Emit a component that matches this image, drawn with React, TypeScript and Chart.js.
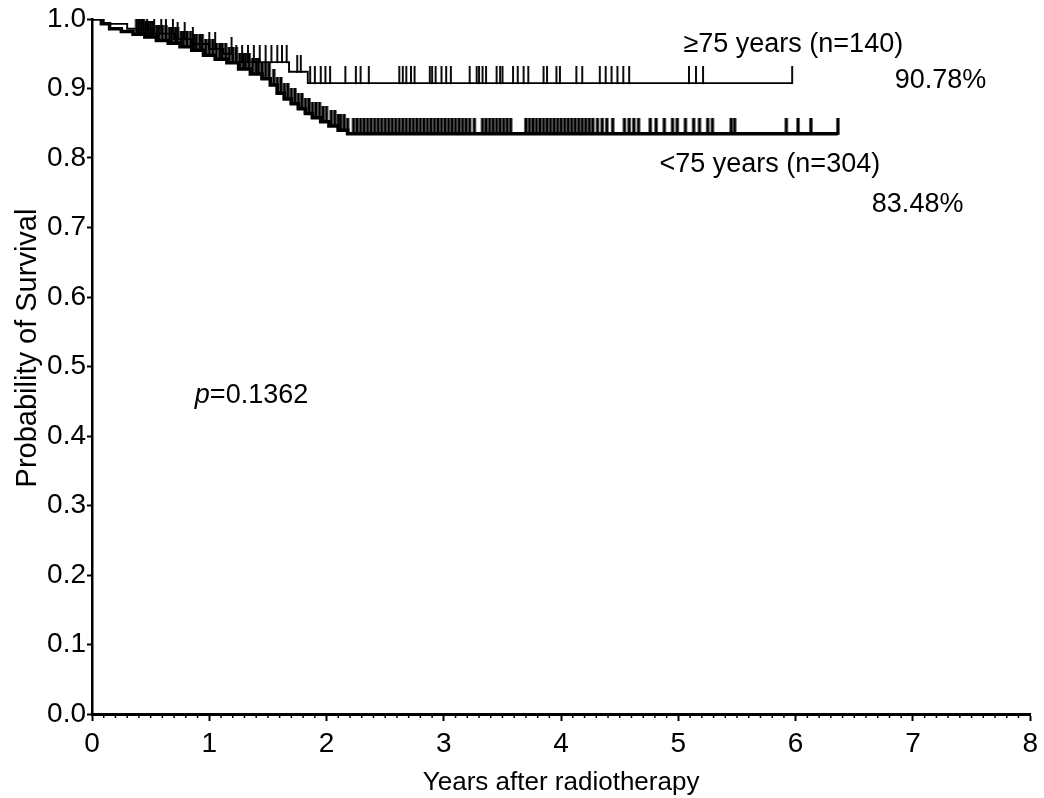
import React, { useEffect, useRef } from "react";
import { Chart, registerables } from "chart.js";

Chart.register(...registerables);

const FONT = '"Liberation Sans", Arial, sans-serif';

// Axis ticks
const X_TICKS = [0, 1, 2, 3, 4, 5, 6, 7, 8];
const Y_TICKS = [0, 0.1, 0.2, 0.3, 0.4, 0.5, 0.6, 0.7, 0.8, 0.9, 1.0];

// >=75 years (n=140): Kaplan-Meier steps (time in years, survival from that time on)
const OLD_TIMES = [0, 0.1, 0.3, 0.5, 0.7, 0.85, 1.0, 1.12, 1.2, 1.68, 1.84, 5.97];
const OLD_SURV = [1.0, 0.993, 0.986, 0.979, 0.971, 0.964, 0.957, 0.95, 0.938, 0.924, 0.9078, 0.9078];
const OLD_CENSOR = [
  0.4, 0.43, 0.47, 0.53, 0.59, 0.63, 0.69, 0.73, 0.79, 0.86, 1.0, 1.05, 1.19, 1.23, 1.28, 1.33,
  1.38, 1.43, 1.48, 1.53, 1.58, 1.62, 1.66, 1.75, 1.78, 1.86, 1.9, 1.95, 1.99, 2.03, 2.16, 2.25,
  2.29, 2.36, 2.62, 2.65, 2.68, 2.72, 2.75, 2.88, 2.9, 2.93, 2.98, 3.02, 3.06, 3.22, 3.28, 3.3,
  3.33, 3.36, 3.45, 3.48, 3.5, 3.59, 3.63, 3.68, 3.72, 3.85, 3.88, 3.96, 3.99, 4.13, 4.18, 4.33,
  4.38, 4.43, 4.48, 4.53, 4.58, 5.09, 5.15, 5.21, 5.97,
];

// <75 years (n=304)
const YOUNG_TIMES = [
  0, 0.08, 0.15, 0.25, 0.35, 0.45, 0.55, 0.65, 0.75, 0.85, 0.95, 1.05, 1.15, 1.25, 1.35, 1.45,
  1.52, 1.58, 1.64, 1.7, 1.76, 1.82, 1.88, 1.95, 2.02, 2.1, 2.18, 6.36,
];
const YOUNG_SURV = [
  1.0, 0.993, 0.986, 0.982, 0.978, 0.974, 0.969, 0.965, 0.96, 0.955, 0.948, 0.942, 0.937, 0.928,
  0.921, 0.914, 0.905, 0.893, 0.885, 0.878, 0.871, 0.864, 0.858, 0.852, 0.846, 0.84, 0.8348, 0.8348,
];
const YOUNG_CENSOR = [
  0.38, 0.4, 0.42, 0.44, 0.46, 0.48, 0.5, 0.52, 0.55, 0.57, 0.6, 0.63, 0.66, 0.68, 0.71, 0.73,
  0.76, 0.78, 0.81, 0.84, 0.87, 0.89, 0.92, 0.94, 0.97, 1.0, 1.03, 1.06, 1.09, 1.11, 1.14, 1.17,
  1.2, 1.23, 1.26, 1.29, 1.31, 1.34, 1.37, 1.4, 1.42, 1.45, 1.48, 1.51, 1.55, 1.58, 1.61, 1.64,
  1.67, 1.7, 1.73, 1.76, 1.79, 1.82, 1.85, 1.88, 1.91, 1.94, 1.97, 2.0, 2.04, 2.07, 2.1, 2.12,
  2.15, 2.18, 2.23, 2.26, 2.29, 2.32, 2.35, 2.38, 2.41, 2.44, 2.47, 2.5, 2.53, 2.56, 2.59, 2.62,
  2.65, 2.68, 2.71, 2.74, 2.77, 2.8, 2.83, 2.86, 2.89, 2.92, 2.95, 2.98, 3.01, 3.04, 3.07, 3.1,
  3.13, 3.16, 3.19, 3.22, 3.26, 3.33, 3.36, 3.39, 3.42, 3.45, 3.48, 3.51, 3.54, 3.57, 3.7, 3.73,
  3.76, 3.79, 3.82, 3.85, 3.88, 3.91, 3.94, 3.97, 4.0, 4.03, 4.06, 4.09, 4.12, 4.15, 4.18, 4.21,
  4.24, 4.27, 4.31, 4.35, 4.39, 4.44, 4.54, 4.58, 4.62, 4.66, 4.76, 4.81, 4.88, 4.95, 4.99, 5.06,
  5.13, 5.18, 5.25, 5.29, 5.45, 5.48, 5.92, 6.02, 6.13, 6.36,
];

// Annotations (data coordinates, text centred)
const NOTE_TEXT = ["\u226575 years (n=140)", "90.78%", "<75 years (n=304)", "83.48%"];
const NOTE_X = [5.98, 7.235, 5.78, 7.04];
const NOTE_Y = [0.9626, 0.9108, 0.79, 0.7324];
const P_LABEL = { italic: "p", rest: "=0.1362", x: 0.877, y: 0.4576 };

const X_TITLE = "Years after radiotherapy";
const Y_TITLE = "Probability of Survival";

function survAt(times: number[], surv: number[], t: number) {
  let s = surv[0];
  for (let i = 0; i < times.length; i++) if (times[i] <= t) s = surv[i];
  return s;
}

function makeTick(len: number, width: number) {
  const c = document.createElement("canvas");
  c.width = Math.ceil(width) + 2;
  c.height = len * 2;
  const ctx = c.getContext("2d")!;
  ctx.fillStyle = "#000";
  ctx.fillRect((c.width - width) / 2, 0, width, len + 1);
  return c;
}

const overlay = {
  id: "overlay",
  afterDraw(chart: any) {
    const { ctx, chartArea } = chart;
    const x = chart.scales.x;
    const y = chart.scales.y;
    ctx.save();
    // minor ticks on x axis
    ctx.strokeStyle = "#000";
    ctx.lineWidth = 1.5;
    for (let i = 1; i < 80; i++) {
      if (i % 10 === 0) continue;
      const px = x.getPixelForValue(i / 10);
      ctx.beginPath();
      ctx.moveTo(px, chartArea.bottom);
      ctx.lineTo(px, chartArea.bottom + 4);
      ctx.stroke();
    }
    // annotations
    ctx.fillStyle = "#000";
    ctx.textBaseline = "middle";
    ctx.textAlign = "center";
    ctx.font = `27px ${FONT}`;
    NOTE_TEXT.forEach((t, i) => {
      ctx.fillText(t, x.getPixelForValue(NOTE_X[i]), y.getPixelForValue(NOTE_Y[i]));
    });
    // p value
    ctx.textAlign = "left";
    const px0 = x.getPixelForValue(P_LABEL.x);
    const py0 = y.getPixelForValue(P_LABEL.y);
    ctx.font = `italic 27px ${FONT}`;
    ctx.fillText(P_LABEL.italic, px0, py0);
    const w = ctx.measureText(P_LABEL.italic).width;
    ctx.font = `27px ${FONT}`;
    ctx.fillText(P_LABEL.rest, px0 + w, py0);
    // y axis title
    ctx.font = `29px ${FONT}`;
    ctx.textAlign = "center";
    ctx.translate(28, y.getPixelForValue(0.5266));
    ctx.rotate(-Math.PI / 2);
    ctx.fillText(Y_TITLE, 0, 0);
    ctx.restore();
  },
};

export default function App() {
  const ref = useRef<HTMLCanvasElement>(null);

  useEffect(() => {
    if (!ref.current) return;
    const oldLine = OLD_TIMES.map((t, i) => ({ x: t, y: OLD_SURV[i] }));
    const youngLine = YOUNG_TIMES.map((t, i) => ({ x: t, y: YOUNG_SURV[i] }));
    const oldCens = OLD_CENSOR.map((t) => ({ x: t, y: survAt(OLD_TIMES, OLD_SURV, t) }));
    const youngCens = YOUNG_CENSOR.map((t) => ({ x: t, y: survAt(YOUNG_TIMES, YOUNG_SURV, t) }));
    const tickOld = makeTick(17, 1.9);
    const tickYoung = makeTick(16, 3.2);

    const chart = new Chart(ref.current, {
      type: "scatter",
      data: {
        datasets: [
          {
            label: "<75 years",
            data: youngLine,
            showLine: true,
            stepped: "before",
            borderColor: "#000",
            borderWidth: 3.5,
            pointRadius: 0,
          },
          {
            label: ">=75 years",
            data: oldLine,
            showLine: true,
            stepped: "before",
            borderColor: "#000",
            borderWidth: 1.9,
            pointRadius: 0,
          },
          {
            label: "<75 censored",
            data: youngCens,
            showLine: false,
            pointStyle: tickYoung as any,
            pointRadius: 8,
          },
          {
            label: ">=75 censored",
            data: oldCens,
            showLine: false,
            pointStyle: tickOld as any,
            pointRadius: 8,
          },
        ],
      },
      options: {
        animation: false,
        responsive: false,
        events: [],
        layout: { padding: { top: 19, right: 12, left: 0, bottom: 0 } },
        plugins: { legend: { display: false }, tooltip: { enabled: false } },
        scales: {
          x: {
            type: "linear",
            min: 0,
            max: 8,
            afterBuildTicks: (s: any) => {
              s.ticks = X_TICKS.map((v) => ({ value: v }));
            },
            afterFit: (s: any) => {
              s.height = 84;
            },
            grid: {
              display: true,
              drawOnChartArea: false,
              drawTicks: true,
              tickLength: 7,
              tickWidth: 2,
              tickColor: "#000",
            },
            border: { display: true, color: "#000", width: 3 },
            ticks: {
              font: { family: FONT, size: 28 },
              color: "#000",
              padding: 6,
              maxRotation: 0,
              autoSkip: false,
              callback: (v: any) => String(v),
            },
            title: {
              display: true,
              text: X_TITLE,
              font: { family: FONT, size: 26 },
              color: "#000",
              padding: { top: 10, bottom: 0 },
            },
          },
          y: {
            type: "linear",
            min: 0,
            max: 1,
            afterBuildTicks: (s: any) => {
              s.ticks = Y_TICKS.map((v) => ({ value: v }));
            },
            afterFit: (s: any) => {
              s.width = 92;
            },
            grid: {
              display: true,
              drawOnChartArea: false,
              drawTicks: true,
              tickLength: 5,
              tickWidth: 2,
              tickColor: "#000",
            },
            border: { display: true, color: "#000", width: 2.5 },
            ticks: {
              font: { family: FONT, size: 28 },
              color: "#000",
              padding: 1,
              autoSkip: false,
              callback: (v: any) => Number(v).toFixed(1),
            },
          },
        },
      },
      plugins: [overlay],
    } as any);
    return () => chart.destroy();
  }, []);

  return (
    <div style={{ position: "absolute", left: 0, top: 0, width: 1044, height: 798, background: "#fff" }}>
      <canvas ref={ref} width={1044} height={798} style={{ width: 1044, height: 798 }} />
    </div>
  );
}
